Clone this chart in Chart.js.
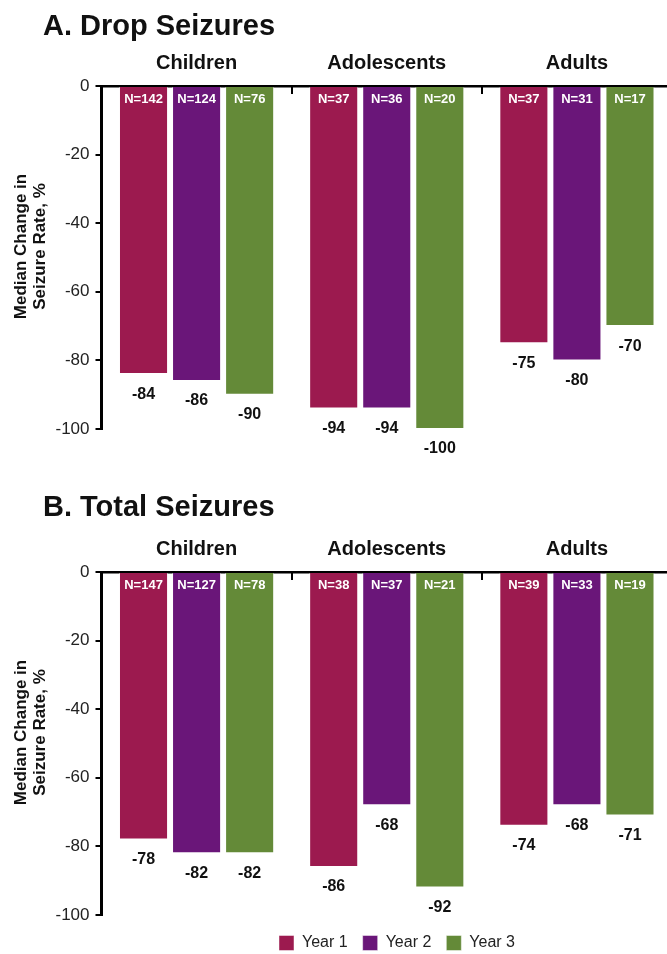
<!DOCTYPE html>
<html>
<head>
<meta charset="utf-8">
<script src="https://cdn.jsdelivr.net/npm/chart.js@4.4.1/dist/chart.umd.min.js"></script>
<style>
  html, body { margin: 0; padding: 0; background: #fff; overflow: hidden; }
  #wrap { position: relative; width: 667px; height: 954px; overflow: hidden; background: #fff; }
  canvas { position: absolute; left: 0; }
  #chartA { top: 0; }
  #chartB { top: 486px; }
</style>
</head>
<body>
<div id="wrap">
  <canvas id="chartA" width="760" height="480"></canvas>
  <canvas id="chartB" width="760" height="480"></canvas>
</div>
<script>
// ---------- data ----------
const categories = ['Children', 'Adolescents', 'Adults'];
const seriesNames = ['Year 1', 'Year 2', 'Year 3'];
const seriesColors = ['#9C1A4F', '#6A1679', '#648A38'];

const dropYear1 = [-84, -94, -75];
const dropYear2 = [-86, -94, -80];
const dropYear3 = [-90, -100, -70];
const dropN1 = [142, 37, 37];
const dropN2 = [124, 36, 31];
const dropN3 = [76, 20, 17];

const totalYear1 = [-78, -86, -74];
const totalYear2 = [-82, -68, -68];
const totalYear3 = [-82, -92, -71];
const totalN1 = [147, 38, 39];
const totalN2 = [127, 37, 33];
const totalN3 = [78, 21, 19];

const yTickValues = [0, -20, -40, -60, -80, -100];
const yTitleLines = ['Median Change in', 'Seizure Rate, %'];

const FONT = '"Liberation Sans", Arial, Helvetica, sans-serif';

// ---------- plugin: bar labels, category separators, y title ----------
const annotatePlugin = {
  id: 'annotate',
  afterDatasetsDraw(chart, args, opts) {
    const ctx = chart.ctx;
    chart.data.datasets.forEach((ds, di) => {
      const meta = chart.getDatasetMeta(di);
      meta.data.forEach((bar, i) => {
        const p = bar.getProps(['x', 'y', 'base'], true);
        ctx.save();
        ctx.textAlign = 'center';
        ctx.textBaseline = 'middle';
        ctx.font = 'bold 13px ' + FONT;
        ctx.fillStyle = '#ffffff';
        ctx.fillText('N=' + opts.counts[di][i], p.x, p.base + 12);
        ctx.font = 'bold 16px ' + FONT;
        ctx.fillStyle = '#111111';
        ctx.fillText(String(ds.data[i]), p.x, p.y + 20);
        ctx.restore();
      });
    });
    // short separator ticks between categories, below the top axis
    const xs = chart.scales.x;
    const top = chart.chartArea.top;
    ctx.save();
    ctx.strokeStyle = '#000';
    ctx.lineWidth = 2;
    for (let i = 1; i < xs.ticks.length; i++) {
      const px = Math.round((xs.getPixelForTick(i - 1) + xs.getPixelForTick(i)) / 2);
      ctx.beginPath();
      ctx.moveTo(px, top);
      ctx.lineTo(px, top + 8);
      ctx.stroke();
    }
    ctx.restore();
  },
  afterDraw(chart) {
    const ctx = chart.ctx;
    const ca = chart.chartArea;
    const cy = (ca.top + ca.bottom) / 2 - 11;
    ctx.save();
    ctx.translate(ca.left - 71, cy);
    ctx.rotate(-Math.PI / 2);
    ctx.font = 'bold 17px ' + FONT;
    ctx.fillStyle = '#111111';
    ctx.textAlign = 'center';
    ctx.textBaseline = 'middle';
    ctx.fillText(yTitleLines[0], 0, -9.5);
    ctx.fillText(yTitleLines[1], 0, 9.5);
    ctx.restore();
  }
};

function makeChart(id, titleText, titlePad, xAxisHeight, values, counts, showLegend, padBottom) {
  const datasets = values.map((arr, k) => ({
    label: seriesNames[k],
    data: arr,
    backgroundColor: seriesColors[k],
    borderColor: 'rgba(255,255,255,0.45)',
    borderWidth: 1,
    categoryPercentage: 0.837,
    barPercentage: 0.925
  }));
  return new Chart(document.getElementById(id), {
    type: 'bar',
    data: { labels: categories, datasets },
    plugins: [annotatePlugin],
    options: {
      responsive: false,
      animation: false,
      devicePixelRatio: 1,
      layout: { padding: { left: 43, right: 9, top: 0, bottom: padBottom } },
      scales: {
        x: {
          position: 'top',
          grid: { display: false },
          border: { display: true, color: '#000', width: 2.5 },
          ticks: { color: '#111', padding: 3, font: { family: FONT, size: 20, weight: 'bold' } },
          afterFit: s => { s.height = xAxisHeight; }
        },
        y: {
          min: -100, max: 0,
          grid: { display: true, drawOnChartArea: false, drawTicks: true, tickLength: 6, color: '#000', lineWidth: 2 },
          border: { display: true, color: '#000', width: 3 },
          afterBuildTicks: s => { s.ticks = yTickValues.map(v => ({ value: v })); },
          ticks: { color: '#222', padding: 6, font: { family: FONT, size: 17 }, callback: v => String(v) },
          afterFit: s => { s.width = 58.5; }
        },
        y2: {
          position: 'right',
          display: true,
          grid: { display: false },
          border: { display: false },
          ticks: { display: false },
          afterFit: s => { s.width = 79; }
        }
      },
      plugins: {
        annotate: { counts },
        tooltip: { enabled: false },
        title: {
          display: true,
          text: titleText,
          align: 'start',
          color: '#111',
          font: { family: FONT, size: 29, weight: 'bold', lineHeight: 1.2 },
          padding: titlePad
        },
        legend: {
          display: showLegend,
          position: 'bottom',
          align: 'center',
          labels: {
            boxWidth: 15, boxHeight: 15, padding: 15, color: '#222',
            font: { family: FONT, size: 16 }
          },
          title: { display: true, text: '', padding: { top: 4, bottom: 0 }, font: { size: 1, lineHeight: 1 } }
        }
      }
    }
  });
}

makeChart('chartA', 'A. Drop Seizures', { top: 10, bottom: 0 }, 41.2,
  [dropYear1, dropYear2, dropYear3], [dropN1, dropN2, dropN3], false, 51);
makeChart('chartB', 'B. Total Seizures', { top: 5, bottom: 0 }, 46.2,
  [totalYear1, totalYear2, totalYear3], [totalN1, totalN2, totalN3], true, 5);
</script>
</body>
</html>
